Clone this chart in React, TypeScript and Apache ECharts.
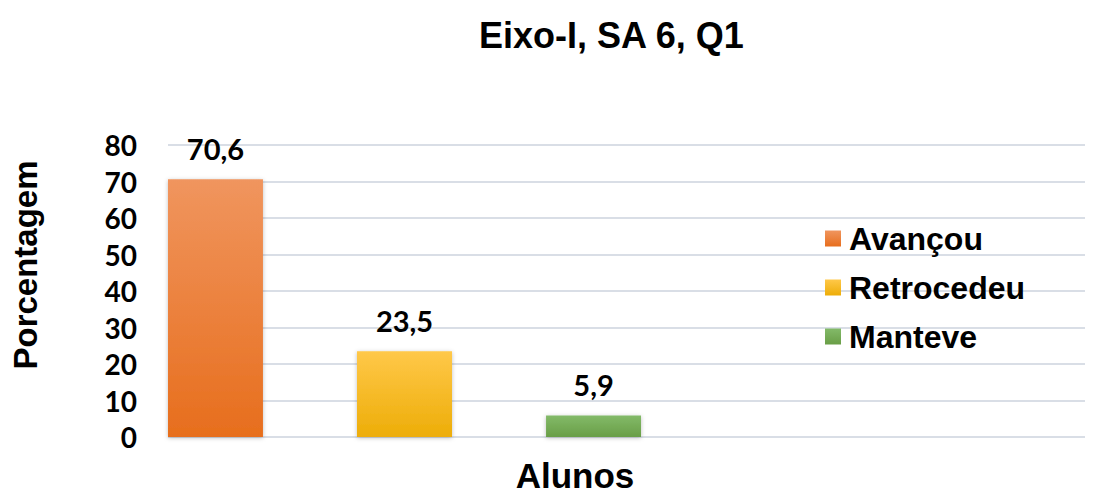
import React, { useEffect, useRef } from "react";
import * as echarts from "echarts";

const titleText = "Eixo-I, SA 6, Q1";
const categories = ["Alunos"];
const seriesNames = ["Avançou", "Retrocedeu", "Manteve"];
const seriesValues = [70.6, 23.5, 5.9];
const yTicks = { min: 0, max: 80, interval: 10 };
const yAxisName = "Porcentagem";
const xAxisName = "Alunos";

const colorStops = [
  ["#F0955E", "#E76E1D"],
  ["#FFC849", "#EDAD08"],
  ["#83BA69", "#699E46"],
];

export default function App() {
  const ref = useRef<HTMLDivElement>(null);
  useEffect(() => {
    if (!ref.current) return;
    const chart = echarts.init(ref.current, null, { renderer: "svg" });
    const labelFont = "Lato, 'Open Sans', sans-serif";
    const arial = "'Liberation Sans', Arial, sans-serif";
    chart.setOption({
      animation: false,
      title: {
        text: titleText,
        left: 479,
        top: 17,
        textStyle: { fontFamily: arial, fontWeight: "bold", fontSize: 36, color: "#000" },
        padding: 0,
      },
      legend: {
        orient: "vertical",
        left: 820,
        top: 217,
        itemWidth: 16,
        itemHeight: 16,
        itemGap: 16,
        icon: "rect",
        data: seriesNames,
        textStyle: { fontFamily: arial, fontWeight: "bold", fontSize: 32, color: "#000", lineHeight: 33, padding: [0, 0, 0, 3] },
      },
      grid: [
        { left: 168, right: 13, top: 145, bottom: 56 },
        { left: 168, width: 473, top: 145, bottom: 56 },
      ],
      xAxis: [
        {
          type: "category",
          gridIndex: 0,
          data: categories,
          axisLine: { show: false },
          axisTick: { show: false },
          axisLabel: { show: false },
        },
        {
          type: "category",
          gridIndex: 1,
          data: categories,
          axisLine: { show: false },
          axisTick: { show: false },
          axisLabel: { show: false },
        },
      ],
      yAxis: [
        {
          type: "value",
          gridIndex: 0,
          min: yTicks.min,
          max: yTicks.max,
          interval: yTicks.interval,
          axisLine: { show: false },
          axisTick: { show: false },
          axisLabel: {
            margin: 31,
            fontFamily: labelFont,
            fontWeight: "bold",
            fontSize: 28,
            color: "#000",
          },
          splitLine: { lineStyle: { color: "#D9DEE6", width: 2 } },
        },
        {
          type: "value",
          gridIndex: 1,
          min: yTicks.min,
          max: yTicks.max,
          interval: yTicks.interval,
          show: false,
        },
      ],
      graphic: [
        {
          type: "text",
          x: 25,
          y: 265,
          rotation: Math.PI / 2,
          style: {
            text: yAxisName,
            font: "bold 33px 'Liberation Sans', Arial, sans-serif",
            fill: "#000",
            textAlign: "center",
            textVerticalAlign: "middle",
          },
        },
        {
          type: "text",
          x: 575,
          y: 475,
          style: {
            text: xAxisName,
            font: "bold 35px 'Liberation Sans', Arial, sans-serif",
            fill: "#000",
            textAlign: "center",
            textVerticalAlign: "middle",
          },
        },
      ],
      series: seriesNames.map((name, i) => ({
        name,
        type: "bar",
        xAxisIndex: 1,
        yAxisIndex: 1,
        data: [seriesValues[i]],
        barWidth: 95,
        barGap: "99%",
        itemStyle: {
          color: new echarts.graphic.LinearGradient(0, 0, 0, 1, [
            { offset: 0, color: colorStops[i][0] },
            { offset: 1, color: colorStops[i][1] },
          ]),
          shadowColor: "rgba(0,0,0,0.25)",
          shadowBlur: 4,
          shadowOffsetY: 1,
        },
        label: {
          show: true,
          position: "top",
          distance: 16,
          fontFamily: labelFont,
          fontWeight: "bold",
          fontSize: 29,
          color: "#000",
          formatter: (p: any) => String(p.value).replace(".", ","),
        },
      })),
    });
    return () => chart.dispose();
  }, []);
  return (
    <div
      ref={ref}
      style={{ position: "absolute", left: 0, top: 0, width: 1098, height: 493 }}
    />
  );
}
